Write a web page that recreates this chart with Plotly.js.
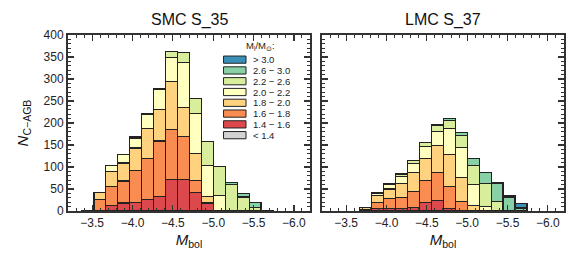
<!DOCTYPE html>
<html>
<head>
<meta charset="utf-8">
<script src="https://cdn.plot.ly/plotly-3.0.1.min.js"></script>
<style>html,body{margin:0;padding:0;background:#fff;}#chart{width:580px;height:270px;}</style>
</head>
<body>
<div id="chart"></div>
<script>
// ---- data ----
const binCenters = [-3.447, -3.595, -3.743, -3.891, -4.039, -4.187, -4.335, -4.483,
                    -4.631, -4.779, -4.927, -5.075, -5.223, -5.371, -5.519, -5.667];
const classLabels = ['&lt; 1.4', '1.4 − 1.6', '1.6 − 1.8', '1.8 − 2.0', '2.0 − 2.2', '2.2 − 2.6', '2.6 − 3.0', '&gt; 3.0'];
const panelTitles = ['SMC S_35', 'LMC S_37'];

// SMC S_35 counts per mass class (bottom to top)
const smc_lt14  = [0,0,0,0,0,0,0,0,0,0,0,0,0,0,0,0];
const smc_14_16 = [0,0,13,18,20,27,33,72,72,42,18,0,0,0,0,0];
const smc_16_18 = [2,26,43,50,72,93,126,114,98,28,0,0,0,0,0,0];
const smc_18_20 = [0,16,34,41,51,67,72,109,65,61,15,0,0,0,0,0];
const smc_20_22 = [0,0,14,20,23,33,45,54,103,90,71,36,0,0,0,0];
const smc_22_26 = [0,0,0,0,2,2,3,14,22,34,54,65,61,32,8,0];
const smc_26_30 = [0,0,0,0,0,0,0,0,0,0,0,0,4,7,12,2];
const smc_gt30  = [0,0,0,0,0,0,0,0,0,0,0,0,0,0,0,0];

// LMC S_37 counts per mass class (bottom to top)
const lmc_lt14  = [0,0,0,0,0,0,0,0,0,0,0,0,0,0,0,0];
const lmc_14_16 = [0,0,0,5,6,6,8,20,24,5,0,0,0,0,0,0];
const lmc_16_18 = [0,0,4,15,23,25,37,50,64,51,22,2,0,0,0,0];
const lmc_18_20 = [0,0,4,16,21,32,43,50,60,73,55,11,0,0,0,0];
const lmc_20_22 = [0,0,0,5,10,16,20,27,33,58,67,48,11,2,0,0];
const lmc_22_26 = [0,0,0,0,3,5,6,9,14,19,27,43,52,20,0,0];
const lmc_26_30 = [0,0,0,0,0,0,0,0,2,5,8,16,25,40,31,7];
const lmc_gt30  = [0,0,0,0,0,0,0,0,0,0,0,0,0,3,3,10];

// ---- styles ----
const colors = ['#d3d3d3', '#dc494c', '#f98d51', '#fed27f', '#ffffbf', '#d8ee9c', '#88d1a6', '#3a8fb9'];
const binWidth = 0.148;
const edge = '#222222';
const axisCol = '#333333';
const FONT = 'Liberation Sans, Arial, Helvetica, sans-serif';

const panels = [
  [smc_lt14, smc_14_16, smc_16_18, smc_18_20, smc_20_22, smc_22_26, smc_26_30, smc_gt30],
  [lmc_lt14, lmc_14_16, lmc_16_18, lmc_18_20, lmc_20_22, lmc_22_26, lmc_26_30, lmc_gt30]
];

const traces = [];
panels.forEach((series, p) => {
  series.forEach((vals, i) => {
    traces.push({
      type: 'bar',
      x: binCenters,
      y: vals.map(v => v === 0 ? null : v),
      width: binWidth,
      name: classLabels[i],
      marker: {color: colors[i], line: {color: edge, width: 1.2}},
      xaxis: p === 0 ? 'x' : 'x2',
      yaxis: p === 0 ? 'y' : 'y2',
      showlegend: false,
      hoverinfo: 'skip'
    });
  });
});

function xax(domain, anchor) {
  return {
    domain: domain, anchor: anchor,
    range: [-3.2, -6.2], autorange: false,
    tickmode: 'linear', tick0: 0, dtick: 0.5, tickformat: '.1f',
    ticks: 'inside', ticklen: 6, tickwidth: 1.2, tickcolor: axisCol,
    minor: {dtick: 0.1, tick0: 0, ticks: 'inside', ticklen: 3, tickwidth: 1, tickcolor: axisCol},
    showline: true, linewidth: 2, linecolor: axisCol, mirror: 'allticks',
    showgrid: false, zeroline: false,
    tickfont: {family: FONT, size: 12, color: '#222'},
    title: {text: '<i>M</i><sub>bol</sub>', font: {family: FONT, size: 15, color: '#111'}, standoff: 5},
    automargin: false
  };
}
function yax(anchor, labels) {
  const a = {
    anchor: anchor, domain: [0, 1],
    range: [0, 400], autorange: false,
    tickmode: 'linear', tick0: 0, dtick: 50,
    ticks: 'inside', ticklen: 6, tickwidth: 1.2, tickcolor: axisCol,
    minor: {dtick: 10, tick0: 0, ticks: 'inside', ticklen: 3, tickwidth: 1, tickcolor: axisCol},
    showline: true, linewidth: 2, linecolor: axisCol, mirror: 'allticks',
    showgrid: false, zeroline: false, showticklabels: labels,
    tickfont: {family: FONT, size: 12, color: '#222'},
    automargin: false
  };
  if (labels) {
    a.title = {text: '<i>N</i><sub>C−AGB</sub>', font: {family: FONT, size: 15, color: '#111'}, standoff: 11};
  }
  return a;
}

const annotations = [];
const shapes = [];
// panel titles
panelTitles.forEach((t, p) => {
  annotations.push({
    text: t, xref: p === 0 ? 'x domain' : 'x2 domain', yref: 'paper',
    x: 0.5, y: 1.0, yanchor: 'bottom', xanchor: 'center', showarrow: false,
    yshift: 4,
    font: {family: FONT, size: 16, color: '#111'}
  });
});
// legend drawn inside left panel
annotations.push({
  text: 'M<sub>i</sub>/M<sub>⊙</sub>:', xref: 'x domain', yref: 'y domain',
  x: 0.795, y: 0.935, xanchor: 'center', yanchor: 'middle', showarrow: false,
  borderpad: 0,
  font: {family: FONT, size: 9.5, color: '#222'}
});
for (let k = 0; k < classLabels.length; k++) {
  const i = classLabels.length - 1 - k;  // top entry is the highest class
  const yc = 0.86 - 0.0613 * k;
  shapes.push({
    type: 'rect', xref: 'x domain', yref: 'y domain',
    x0: 0.6426, x1: 0.7355, y0: yc - 0.0205, y1: yc + 0.0205,
    fillcolor: colors[i], line: {color: edge, width: 1}
  });
  annotations.push({
    text: classLabels[i], xref: 'x domain', yref: 'y domain',
    x: 0.762, y: yc, xanchor: 'left', yanchor: 'middle', showarrow: false,
    borderpad: 0,
    font: {family: FONT, size: 9.5, color: '#222'}
  });
}

const layout = {
  width: 580, height: 270,
  margin: {l: 68, r: 16, t: 35, b: 59},
  paper_bgcolor: '#ffffff', plot_bgcolor: '#ffffff',
  barmode: 'stack', bargap: 0,
  showlegend: false,
  font: {family: FONT, color: '#222'},
  xaxis: xax([0, 0.488], 'y'),
  yaxis: yax('x', true),
  xaxis2: xax([0.512, 1], 'y2'),
  yaxis2: yax('x2', false),
  annotations: annotations,
  shapes: shapes
};

Plotly.newPlot('chart', traces, layout, {staticPlot: true, displayModeBar: false});
</script>
</body>
</html>
